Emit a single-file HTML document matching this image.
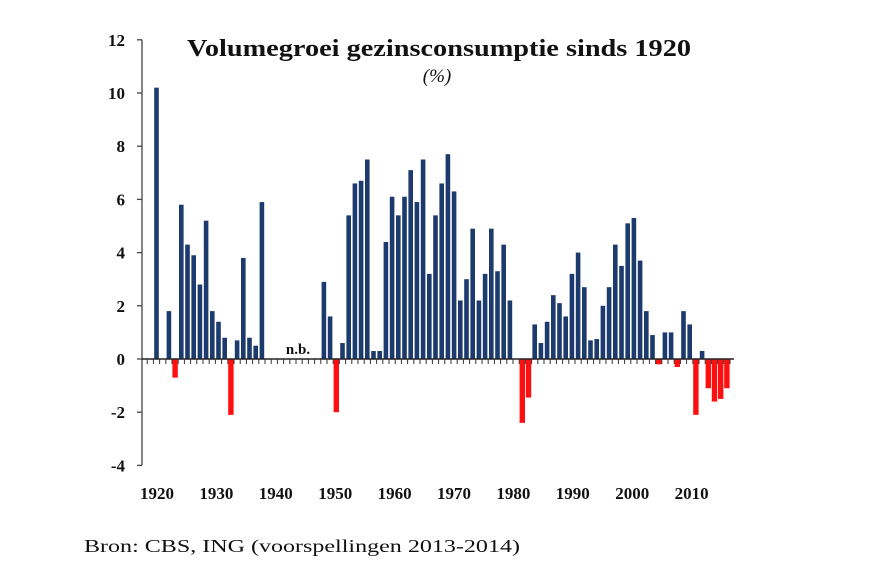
<!DOCTYPE html>
<html><head><meta charset="utf-8">
<style>
html,body{margin:0;padding:0;background:#fff;}
svg{display:block;}
text{font-family:"Liberation Serif",serif;fill:#111;}
</style></head>
<body>
<svg id="chart" width="876" height="575" viewBox="0 0 876 575" xmlns="http://www.w3.org/2000/svg">
  <rect width="876" height="575" fill="#fff"/>
  <text x="187" y="56" font-size="24" font-weight="bold" textLength="504" lengthAdjust="spacingAndGlyphs">Volumegroei gezinsconsumptie sinds 1920</text>
  <text x="437" y="82" font-size="19" font-style="italic" text-anchor="middle">(%)</text>
  <text x="84" y="552" font-size="18" textLength="436" lengthAdjust="spacingAndGlyphs">Bron: CBS, ING (voorspellingen 2013-2014)</text>
  <text x="298" y="354" font-size="15" font-weight="bold" text-anchor="middle">n.b.</text>
  <g id="yaxis"></g>
  <g id="bars"></g>
  <g id="xaxis"></g>
</svg>
<script>
const years = [];
for (let y = 1921; y <= 2013; y++) years.push(y);
const values = [
  10.2, null, 1.8, -0.7, 5.8, 4.3, 3.9, 2.8, 5.2, 1.8,
  1.4, 0.8, -2.1, 0.7, 3.8, 0.8, 0.5, 5.9, null, null,
  null, null, null, null, null, null, null, 2.9, 1.6, -2.0,
  0.6, 5.4, 6.6, 6.7, 7.5, 0.3, 0.3, 4.4, 6.1, 5.4,
  6.1, 7.1, 5.9, 7.5, 3.2, 5.4, 6.6, 7.7, 6.3, 2.2,
  3.0, 4.9, 2.2, 3.2, 4.9, 3.3, 4.3, 2.2, null, -2.4,
  -1.45, 1.3, 0.6, 1.4, 2.4, 2.1, 1.6, 3.2, 4.0, 2.7,
  0.7, 0.75, 2.0, 2.7, 4.3, 3.5, 5.1, 5.3, 3.7, 1.8,
  0.9, -0.2, 1.0, 1.0, -0.3, 1.8, 1.3, -2.1, 0.3, -1.1,
  -1.6, -1.5, -1.1
];
const yTicks = [12, 10, 8, 6, 4, 2, 0, -2, -4];
const xTickLabels = [1920, 1930, 1940, 1950, 1960, 1970, 1980, 1990, 2000, 2010];

const NS = "http://www.w3.org/2000/svg";
const yScale = v => 359 - v * 26.6;
const xBar = yr => 156.5 + (yr - 1921) * 6.2;
const xLabel = yr => 157 + (yr - 1920) * 5.94;
function mk(tag, attrs, parent) {
  const e = document.createElementNS(NS, tag);
  for (const k in attrs) e.setAttribute(k, attrs[k]);
  parent.appendChild(e);
  return e;
}
const yG = document.getElementById('yaxis');
const bG = document.getElementById('bars');
const xG = document.getElementById('xaxis');

const yl = mk('line', {x1: 142, x2: 142, y1: yScale(12), y2: yScale(-4), stroke: '#444', 'stroke-width': 1.3}, yG);


yTicks.forEach(t => {
  const tk = mk('line', {x1: 137, x2: 142, y1: yScale(t), y2: yScale(t), stroke: '#444', 'stroke-width': 1.3}, yG);
  
  
  const tx = mk('text', {x: 125, y: yScale(t) + 6, 'font-size': 17, 'font-weight': 'bold', 'text-anchor': 'end'}, yG);
  tx.textContent = t;
  
  
});

years.forEach((yr, i) => {
  const v = values[i];
  if (v === null) return;
  const y0 = yScale(0), y1 = yScale(v);
  const w = v >= 0 ? 4.6 : 5.4;
  const r = mk('rect', {x: xBar(yr) - w / 2, y: Math.min(y0, y1), width: w, height: Math.max(1, Math.abs(y1 - y0)),
    fill: v >= 0 ? '#1c3a6e' : '#ff1010'}, bG);
  
  
});

const xl = mk('line', {x1: 142, x2: 734, y1: yScale(0), y2: yScale(0), stroke: '#222', 'stroke-width': 1.5}, xG);


for (let yr = 1919; yr <= 2014; yr++) {
  const x = xBar(yr) - 3.1;
  if (x < 143) continue;
  const tk = mk('line', {x1: x, x2: x, y1: yScale(0), y2: yScale(0) + 5, stroke: '#333', 'stroke-width': 1}, xG);
  
  
}
xTickLabels.forEach(yr => {
  const tx = mk('text', {x: xLabel(yr), y: 499, 'font-size': 17, 'font-weight': 'bold', 'text-anchor': 'middle'}, xG);
  tx.textContent = yr;
  
  
});
</script>
</body></html>
